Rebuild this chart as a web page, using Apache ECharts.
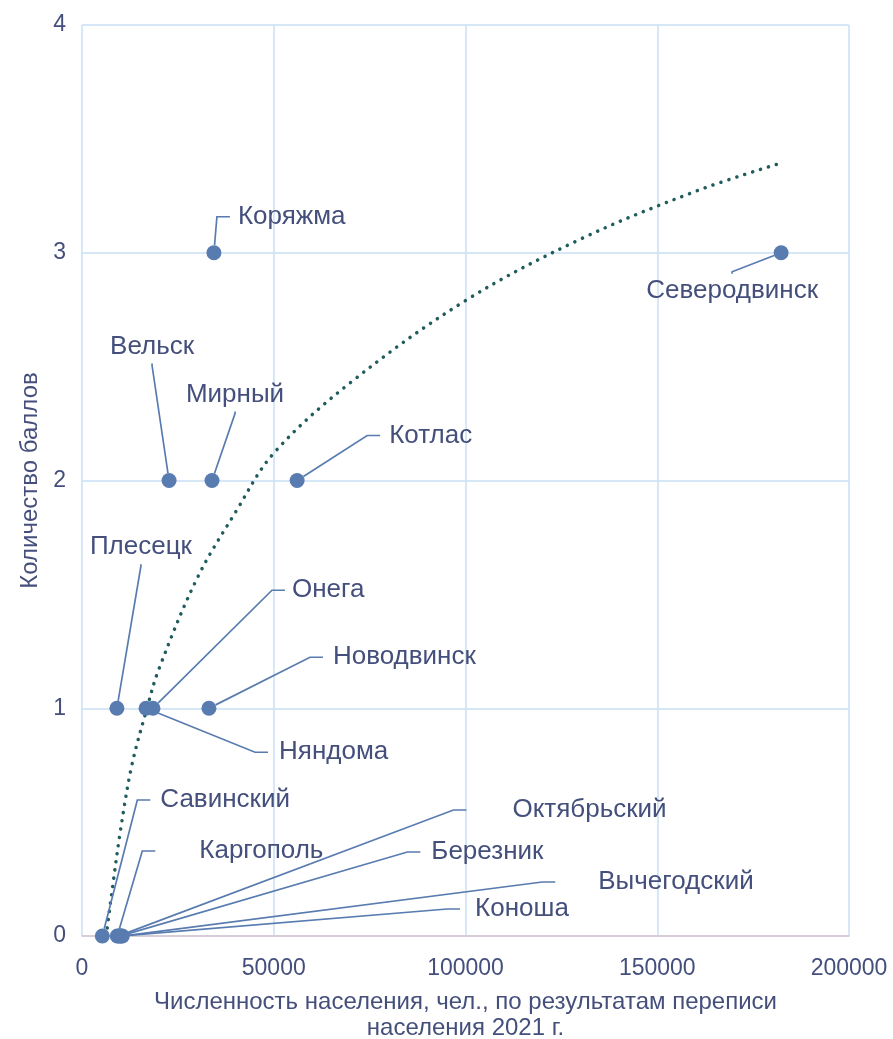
<!DOCTYPE html>
<html>
<head>
<meta charset="utf-8">
<script src="https://cdn.jsdelivr.net/npm/echarts@6/dist/echarts.min.js"></script>
<style>
html,body{margin:0;padding:0;background:#fff;}
#chart{width:893px;height:1039px;}
</style>
</head>
<body>
<div id="chart"></div>
<script>
// ---- data ----
const towns = ['Коряжма','Северодвинск','Вельск','Мирный','Котлас','Плесецк','Онега','Няндома','Новодвинск','Савинский','Каргополь','Октябрьский','Березник','Вычегодский','Коноша'];
const population = [34400, 182300, 22700, 33900, 56100, 9100, 18500, 16700, 33100, 5300, 9200, 9500, 10000, 10500, 10200];
const scores = [3, 3, 2, 2, 2, 1, 1, 1, 1, 0, 0, 0, 0, 0, 0];
// trend line values
const trendX = [6300, 8000, 10000, 13000, 16950, 20000, 30000, 40000, 50000, 70000, 100000, 130000, 160000, 181500];
const trendY = [0, 0.22, 0.46, 0.75, 1.0, 1.17, 1.57, 1.86, 2.12, 2.43, 2.79, 3.06, 3.27, 3.39];
const xTicks = [0, 50000, 100000, 150000, 200000];
const yTicks = [0, 1, 2, 3, 4];

// ---- label placement (pixels relative to point centre) ----
// [align, dx, dy, paddingLeft]
const labelPlace = {
  'Коряжма': ['left', 16, -36, 8],
  'Северодвинск': ['center', -49, 38, 6],
  'Вельск': ['center', -17, -134, 6],
  'Мирный': ['center', 23, -86, 6],
  'Котлас': ['left', 83, -45, 9],
  'Плесецк': ['center', 24, -161, 6],
  'Онега': ['left', 132, -118, 7],
  'Няндома': ['left', 122, 44, 11],
  'Новодвинск': ['left', 114, -51, 10],
  'Савинский': ['left', 48, -136, 10],
  'Каргополь': ['left', 38, -85, 44],
  'Октябрьский': ['left', 348, -126, 46],
  'Березник': ['left', 300, -84, 11],
  'Вычегодский': ['left', 433, -54, 43],
  'Коноша': ['left', 339, -27, 15]
};

const textColor = '#444F7C';
const pointColor = '#587BB0';
const gridColor = '#C9E0F5';
const fontFam = '"Liberation Sans", Arial, sans-serif';

const scatterData = towns.map((t, i) => {
  const p = labelPlace[t];
  const centred = p[0] === 'center';
  return {
    name: t,
    value: [population[i], scores[i]],
    label: { padding: centred ? [4, 6, 4, 6] : [5, 6, 5, p[3]] },
    labelLine: { length2: centred ? 2 : 13 }
  };
});

const trendData = trendX.map((x, i) => [x, trendY[i]]);

const chart = echarts.init(document.getElementById('chart'), null, { renderer: 'canvas' });
chart.setOption({
  animation: false,
  backgroundColor: '#fff',
  textStyle: { fontFamily: fontFam },
  grid: { left: 82, right: 44, top: 25, bottom: 103, containLabel: false, outerBoundsMode: 'none' },
  xAxis: {
    type: 'value',
    min: xTicks[0], max: xTicks[xTicks.length - 1], interval: xTicks[1] - xTicks[0],
    name: 'Численность населения, чел., по результатам переписи\nнаселения 2021 г.',
    nameLocation: 'middle', nameGap: 53,
    nameTextStyle: { color: textColor, fontSize: 24, lineHeight: 26, fontFamily: fontFam, verticalAlign: 'top' },
    axisLine: { show: true, lineStyle: { color: '#D8C3CE', width: 1.5 } },
    axisTick: { show: false },
    axisLabel: { color: textColor, fontSize: 23, margin: 21, fontFamily: fontFam, formatter: v => String(v) },
    splitLine: { show: true, lineStyle: { color: gridColor, width: 1.5 } }
  },
  yAxis: {
    type: 'value',
    min: yTicks[0], max: yTicks[yTicks.length - 1], interval: yTicks[1] - yTicks[0],
    name: 'Количество баллов',
    nameLocation: 'middle', nameGap: 40, nameRotate: 90,
    nameTextStyle: { color: textColor, fontSize: 24, fontFamily: fontFam },
    axisLine: { show: false },
    axisTick: { show: false },
    axisLabel: { color: textColor, fontSize: 23, margin: 16, fontFamily: fontFam, formatter: v => String(v) },
    splitLine: { show: true, lineStyle: { color: gridColor, width: 1.5 } }
  },
  series: [
    {
      type: 'line',
      data: trendData,
      smooth: 0.35,
      showSymbol: false,
      silent: true,
      z: 1,
      lineStyle: { color: '#1F5C5C', width: 3.5, type: [0.1, 8.2], cap: 'round' }
    },
    {
      type: 'scatter',
      data: scatterData,
      symbolSize: 15,
      z: 3,
      itemStyle: { color: pointColor, opacity: 1 },
      label: {
        show: true,
        formatter: '{b}',
        color: textColor,
        fontSize: 26,
        fontFamily: fontFam,
        position: 'right',
        backgroundColor: 'rgba(255,255,255,0)'
      },
      labelLine: { show: true, length2: 13, lineStyle: { color: pointColor, width: 1.7 } },
      labelLayout: function (params) {
        const t = towns[params.dataIndex];
        const p = labelPlace[t];
        const cx = params.rect.x + params.rect.width / 2;
        const cy = params.rect.y + params.rect.height / 2;
        return { x: cx + p[1], y: cy + p[2], align: p[0], verticalAlign: 'middle' };
      },
      emphasis: { disabled: true }
    }
  ]
});
</script>
</body>
</html>
